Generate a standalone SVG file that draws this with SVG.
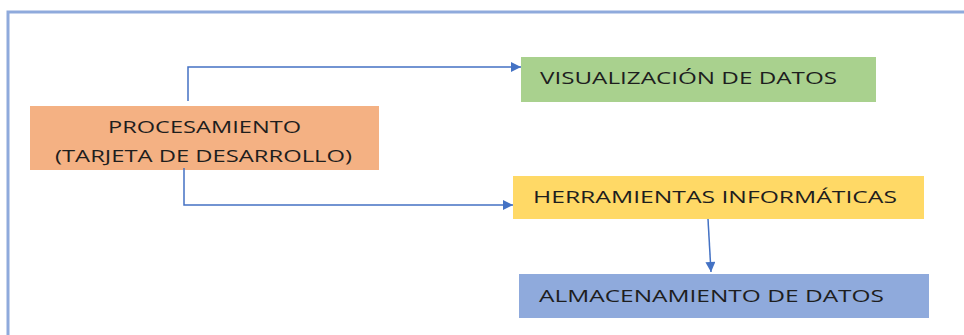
<svg xmlns="http://www.w3.org/2000/svg" width="964" height="335" viewBox="0 0 964 335">
  <defs>
    <marker id="arrow" viewBox="0 0 10 10" refX="10" refY="5" markerWidth="11" markerHeight="10" markerUnits="userSpaceOnUse" orient="auto">
      <path d="M0,0 L10,5 L0,10 z" fill="#4472C4"/>
    </marker>
    <style>
      .frame { fill: none; stroke: #8FAADC; stroke-width: 3; }
      .box { stroke: none; }
      .label { font-family: "Open Sans", "Liberation Sans", Arial, sans-serif; font-size: 16.5px; fill: #1e1e1e; }
      .conn { fill: none; stroke: #4472C4; stroke-width: 1.5; marker-end: url(#arrow); }
    </style>
  </defs>
  <rect width="964" height="335" fill="#ffffff"/>

  <!-- outer frame (top and left edges) -->
  <path class="frame" d="M8,335 L8,12 L964,12"/>

  <g id="procesamiento">
    <rect class="box" x="30" y="106" width="349" height="64" fill="#F4B183"/>
    <text class="label" x="108" y="133" textLength="193" lengthAdjust="spacingAndGlyphs">PROCESAMIENTO</text>
    <text class="label" x="55" y="162" textLength="297" lengthAdjust="spacingAndGlyphs">(TARJETA DE DESARROLLO)</text>
  </g>

  <g id="visualizacion">
    <rect class="box" x="521" y="57" width="355" height="45" fill="#A9D18E"/>
    <text class="label" x="540" y="84" textLength="297" lengthAdjust="spacingAndGlyphs">VISUALIZACIÓN DE DATOS</text>
  </g>

  <g id="herramientas">
    <rect class="box" x="513" y="176" width="411" height="43" fill="#FFD966"/>
    <text class="label" x="533" y="203" textLength="364" lengthAdjust="spacingAndGlyphs">HERRAMIENTAS INFORMÁTICAS</text>
  </g>

  <g id="almacenamiento">
    <rect class="box" x="519" y="274" width="410" height="44" fill="#8FAADC"/>
    <text class="label" x="539" y="302" textLength="345" lengthAdjust="spacingAndGlyphs">ALMACENAMIENTO DE DATOS</text>
  </g>

  <g id="connectors">
    <path class="conn" d="M188,101 L188,67 L521,67"/>
    <path class="conn" d="M184,168 L184,205 L513,205"/>
    <path class="conn" d="M708,219 L711,272"/>
  </g>
</svg>
